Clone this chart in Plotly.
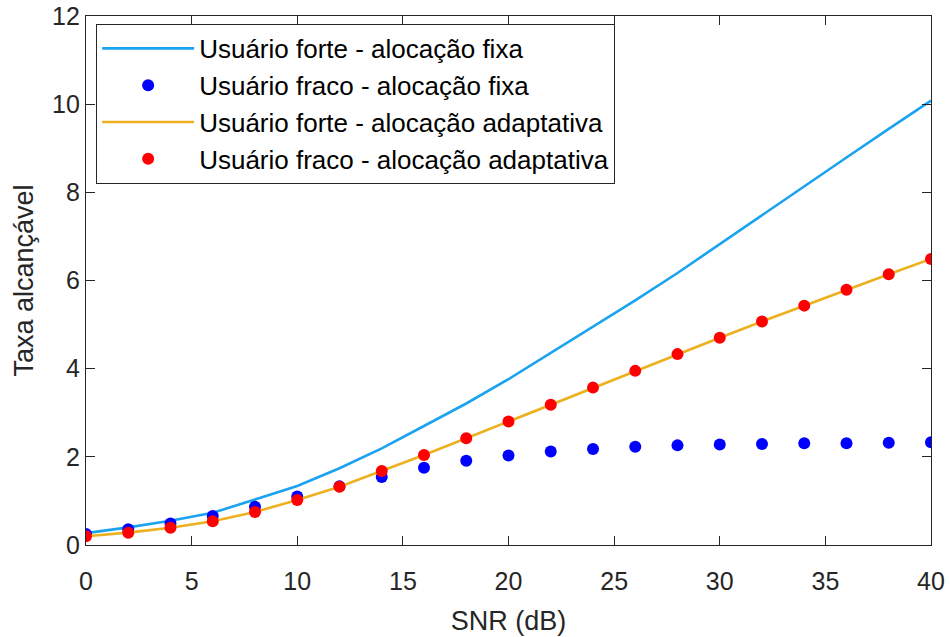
import plotly.graph_objects as go

# ---- data ----
snr_db = [0, 2, 4, 6, 8, 10, 12, 14, 16, 18, 20, 22, 24, 26, 28, 30, 32, 34, 36, 38, 40]
forte_fixa = [0.27, 0.40, 0.55, 0.73, 1.03, 1.34, 1.74, 2.19, 2.70, 3.21, 3.76,
              4.35, 4.95, 5.55, 6.17, 6.83, 7.48, 8.14, 8.79, 9.44, 10.08]
fraco_fixa = [0.25, 0.36, 0.49, 0.66, 0.87, 1.10, 1.33, 1.54, 1.75, 1.91, 2.03,
              2.12, 2.18, 2.23, 2.26, 2.28, 2.29, 2.31, 2.31, 2.32, 2.33]
forte_adapt = [0.20, 0.28, 0.39, 0.54, 0.75, 1.02, 1.32, 1.68, 2.04, 2.42, 2.80,
               3.18, 3.57, 3.95, 4.33, 4.70, 5.07, 5.43, 5.79, 6.14, 6.49]
fraco_adapt = [0.20, 0.28, 0.39, 0.54, 0.75, 1.02, 1.32, 1.68, 2.04, 2.42, 2.80,
               3.18, 3.57, 3.95, 4.33, 4.70, 5.07, 5.43, 5.79, 6.14, 6.49]

x_ticks = [0, 5, 10, 15, 20, 25, 30, 35, 40]
y_ticks = [0, 2, 4, 6, 8, 10, 12]

names = ["Usuário forte - alocação fixa",
         "Usuário fraco - alocação fixa",
         "Usuário forte - alocação adaptativa",
         "Usuário fraco - alocação adaptativa"]

AX = "#262626"

fig = go.Figure()
fig.add_trace(go.Scatter(x=snr_db, y=forte_fixa, mode="lines", name=names[0],
                         legendgroup="a", line=dict(color="#1aa3f0", width=2.6)))
fig.add_trace(go.Scatter(x=snr_db, y=fraco_fixa, mode="markers", name=names[1],
                         legendgroup="b", marker=dict(color="#0000ff", size=12)))
fig.add_trace(go.Scatter(x=snr_db, y=forte_adapt, mode="lines", name=names[2],
                         legendgroup="c", line=dict(color="#edb120", width=2.6)))
fig.add_trace(go.Scatter(x=snr_db, y=fraco_adapt, mode="markers", name=names[3],
                         legendgroup="d", marker=dict(color="#ff0000", size=12)))

axis_common = dict(showgrid=False, zeroline=False, showline=True, linecolor=AX,
                   linewidth=1.3, mirror="ticks", ticks="inside", ticklen=9,
                   tickcolor=AX, tickwidth=1.3, automargin=False,
                   tickfont=dict(size=25, color=AX))

fig.update_layout(
    width=951, height=637,
    margin=dict(l=86, r=20, t=16, b=92),
    paper_bgcolor="white", plot_bgcolor="white",
    font=dict(family="Liberation Sans, Arial, sans-serif", size=25, color=AX),
    xaxis=dict(range=[0, 40], tickvals=x_ticks, ticktext=[str(v) for v in x_ticks],
               ticklabelstandoff=14,
               title=dict(text="SNR (dB)", font=dict(size=27, color=AX), standoff=16),
               **axis_common),
    yaxis=dict(range=[0, 12], tickvals=y_ticks, ticktext=[str(v) for v in y_ticks],
               title=dict(text="Taxa alcançável", font=dict(size=27, color=AX), standoff=10),
               **axis_common),
    legend=dict(x=0.012, y=0.985, xanchor="left", yanchor="top",
                bgcolor="white", bordercolor=AX, borderwidth=1,
                font=dict(size=26, color="black"), itemwidth=92,
                tracegroupgap=0, traceorder="normal"),
    showlegend=True,
)

fig.write_html("out.html")
